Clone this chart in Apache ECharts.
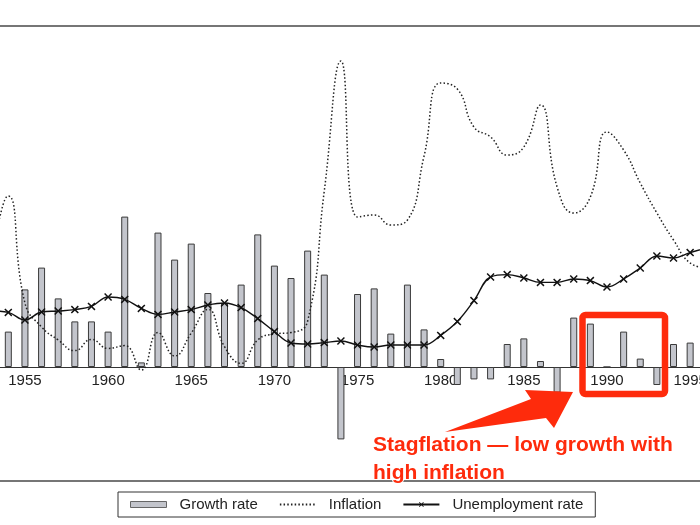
<!DOCTYPE html>
<html>
<head>
<meta charset="utf-8">
<script src="https://cdn.jsdelivr.net/npm/echarts@6/dist/echarts.min.js"></script>
<style>
html,body{margin:0;padding:0;background:#fff;}
#chart{width:700px;height:525px;}
</style>
</head>
<body>
<div id="chart"></div>
<script>
// ---- data ----
const years = [1952,1953,1954,1955,1956,1957,1958,1959,1960,1961,1962,1963,1964,1965,1966,1967,1968,1969,1970,1971,1972,1973,1974,1975,1976,1977,1978,1979,1980,1981,1982,1983,1984,1985,1986,1987,1988,1989,1990,1991,1992,1993,1994,1995,1996];
const growthRate = [null,null,1.77,3.88,4.97,3.43,2.28,2.28,1.77,7.52,0.23,6.72,5.37,6.17,3.7,3.2,4.12,6.63,5.07,4.45,5.82,4.62,-3.62,3.65,3.93,1.67,4.12,1.88,0.4,-0.9,-0.62,-0.62,1.15,1.43,0.3,-1.28,2.47,2.17,0,1.77,0.42,-0.9,1.15,1.22,null];
const inflation = [3.5,6.0,8.55,3.2,2.0,1.35,0.82,1.38,0.93,1.07,-0.15,1.72,0.55,1.7,2.88,1.02,0.18,1.35,1.65,1.72,2.3,8.8,15.3,7.5,7.6,7.1,7.35,10.55,14.2,13.9,12.0,11.5,10.6,11.0,13.1,9.0,7.7,8.5,11.75,10.85,9.2,7.7,6.35,5.2,4.95];
const unemployment = [2.8,2.8,2.73,2.35,2.75,2.8,2.87,3.03,3.5,3.38,2.93,2.63,2.75,2.87,3.1,3.2,2.97,2.42,1.77,1.2,1.15,1.22,1.3,1.1,1.0,1.1,1.1,1.1,1.58,2.27,3.32,4.5,4.62,4.45,4.23,4.23,4.4,4.32,4.0,4.4,4.95,5.55,5.45,5.72,5.95];
const seriesNames = ['Growth rate','Inflation','Unemployment rate'];
const labelStep = 5;
const noteLines = ['Stagflation \u2014 low growth with','high inflation'];

const FONT = '"Liberation Sans", Arial, Helvetica, sans-serif';
const RED = '#fe2b0c';
const crossPath = 'path://M0,1.3L1.3,0L5,3.7L8.7,0L10,1.3L6.3,5L10,8.7L8.7,10L5,6.3L1.3,10L0,8.7L3.7,5Z';
const yMin = -5.7, yMax = 17.05;
const gridTop = 26, gridBottom = 44, chartH = 525;
const plotH = chartH - gridTop - gridBottom;
const zeroOffset = -plotH * (0 - yMin) / (yMax - yMin); // lift axis from grid bottom to the zero line

const chart = echarts.init(document.getElementById('chart'), null, {renderer:'canvas'});
chart.setOption({
  animation:false,
  backgroundColor:'#fff',
  grid:{left:-33.26, right:-15.09, top:gridTop, bottom:gridBottom, show:true, borderColor:'#4a4a4a', borderWidth:1.5, backgroundColor:'transparent', containLabel:false, outerBoundsMode:'none'},
  xAxis:{
    type:'category', data:years.map(String), boundaryGap:true, position:'bottom', offset:zeroOffset,
    axisLine:{onZero:false, lineStyle:{color:'#333', width:1}},
    axisTick:{interval:0, length:4, lineStyle:{color:'#333', width:1}},
    axisLabel:{interval:(i,v)=>Number(v)%labelStep===0, fontSize:15, color:'#222', margin:6, fontFamily:FONT},
    splitLine:{show:false}
  },
  yAxis:{type:'value', min:yMin, max:yMax, show:false, splitLine:{show:false}},
  legend:{
    left:118, top:492,
    data:[{name:seriesNames[0], icon:'rect', itemStyle:{borderWidth:1, borderColor:'#666'}},{name:seriesNames[1], itemStyle:{color:'rgba(0,0,0,0)', borderWidth:0}},{name:seriesNames[2]}],
    borderColor:'#333', borderWidth:1, padding:[5,12,5,12],
    itemGap:21, itemWidth:36, itemHeight:6, backgroundColor:'#fff',
    textStyle:{fontSize:15, color:'#222', fontFamily:FONT, padding:[0,0,0,8]}
  },
  series:[
    {name:seriesNames[0], type:'bar', data:growthRate, barWidth:7,
     itemStyle:{color:'#c3c5cc', borderColor:'#3a3a3a', borderWidth:1}, z:1},
    {name:seriesNames[1], type:'line', data:inflation, smooth:0.5, symbol:'none',
     itemStyle:{color:'#222'},
     lineStyle:{color:'#222', width:1.5, type:[1.5,2.2]}, z:3},
    {name:seriesNames[2], type:'line', data:unemployment, smooth:0.4, symbol:crossPath, symbolSize:8, showAllSymbol:true,
     itemStyle:{color:'#111'}, lineStyle:{color:'#111', width:1.4}, z:4}
  ],
  graphic:[
    {type:'rect', z:100, shape:{x:582.5, y:315, width:82.5, height:79, r:3},
     style:{fill:'none', stroke:RED, lineWidth:6.5}},
    {type:'polygon', z:100, shape:{points:[[445,432],[531,399],[525,390],[573,392],[554,428],[546,418]]},
     style:{fill:RED}},
    {type:'text', z:100, x:373, y:431,
     style:{text:noteLines.join('\n'), font:'bold 21px '+FONT, fill:RED, lineHeight:28, stroke:'#fff', lineWidth:2, textVerticalAlign:'top'}}
  ]
});
</script>
</body>
</html>
